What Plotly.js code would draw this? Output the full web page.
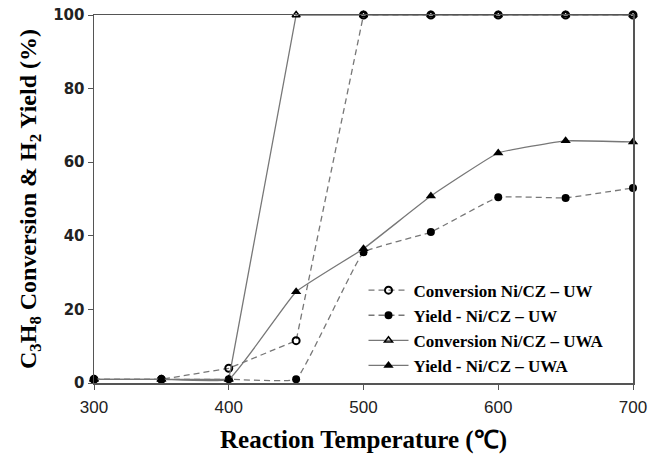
<!DOCTYPE html>
<html>
<head>
<meta charset="utf-8">
<script src="https://cdn.plot.ly/plotly-3.0.1.min.js"></script>
<style>html,body{margin:0;padding:0;background:#fff}#chart{width:661px;height:456px}</style>
</head>
<body>
<div id="chart"></div>
<script>
var temperatures = [300, 350, 400, 450, 500, 550, 600, 650, 700];
var convUW  = [1, 1, 4, 11.5, 100, 100, 100, 100, 100];
var yieldUW = [1, 1, 1, 1, 35.5, 41, 50.5, 50.3, 53];
var convUWA = [1, 1, 1, 100, 100, 100, 100, 100, 100];
var yieldUWA = [1, 1, 1, 24.8, 36.5, 50.8, 62.5, 65.8, 65.5];
var seriesNames = ['Conversion Ni/CZ \u2013 UW', 'Yield - Ni/CZ \u2013 UW', 'Conversion Ni/CZ \u2013 UWA', 'Yield - Ni/CZ \u2013 UWA'];
var xTicks = [300, 400, 500, 600, 700];
var yTicks = [0, 20, 40, 60, 80, 100];

var lineCol = '#777777';
var traces = [
  {x: temperatures, y: convUW, name: seriesNames[0], mode: 'lines+markers', cliponaxis: false,
   line: {color: lineCol, width: 1.3, dash: '6px,4px'},
   marker: {symbol: 'circle-open', size: 7, color: '#000', line: {width: 2, color: '#000'}}},
  {x: temperatures, y: yieldUW, name: seriesNames[1], mode: 'lines+markers', cliponaxis: false,
   line: {color: lineCol, width: 1.3, dash: '6px,4px', shape: 'spline', smoothing: 0.25},
   marker: {symbol: 'circle', size: 8, color: '#000'}},
  {x: temperatures, y: convUWA, name: seriesNames[2], mode: 'lines+markers', cliponaxis: false,
   line: {color: lineCol, width: 1.3},
   marker: {symbol: 'triangle-up-open', size: 7, color: '#000', line: {width: 1.5, color: '#000'}}},
  {x: temperatures, y: yieldUWA, name: seriesNames[3], mode: 'lines+markers', cliponaxis: false,
   line: {color: lineCol, width: 1.3, shape: 'spline', smoothing: 0.3},
   marker: {symbol: 'triangle-up', size: 9, color: '#000'}}
];

var layout = {
  width: 661, height: 456,
  margin: {l: 94, r: 28, t: 15, b: 73},
  paper_bgcolor: '#fff', plot_bgcolor: '#fff',
  showlegend: true,
  legend: {x: 0.5, y: 0.30, xanchor: 'left', yanchor: 'top', bgcolor: 'rgba(0,0,0,0)',
    font: {family: 'Liberation Serif, Times New Roman, serif', size: 17, color: '#000', weight: 'bold'},
    tracegroupgap: 0, itemwidth: 40},
  xaxis: {range: [300, 700], tickvals: xTicks, ticktext: xTicks.map(String),
    showgrid: false, zeroline: false, showline: true, linecolor: '#555', linewidth: 1.5, mirror: true,
    ticks: 'outside', ticklen: 5, tickcolor: '#555', ticklabelstandoff: 3,
    tickfont: {family: 'Liberation Sans, Arial, sans-serif', size: 17, color: '#222'},
    title: {text: 'Reaction Temperature (\u2103)', standoff: 14,
      font: {family: 'Liberation Serif, Times New Roman, serif', size: 25, color: '#000', weight: 'bold'}}},
  yaxis: {range: [0, 100], tickvals: yTicks, ticktext: yTicks.map(String),
    showgrid: false, zeroline: false, showline: true, linecolor: '#555', linewidth: 1.5, mirror: true,
    ticks: 'outside', ticklen: 5, tickcolor: '#555',
    tickfont: {family: 'DejaVu Sans, Verdana, sans-serif', size: 15, color: '#222', weight: 'bold'},
    title: {text: 'C<sub>3</sub>H<sub>8</sub> Conversion &amp; H<sub>2</sub> Yield (%)', standoff: 10,
      font: {family: 'Liberation Serif, Times New Roman, serif', size: 24, color: '#000', weight: 'bold'}}}
};

Plotly.newPlot('chart', traces, layout, {displayModeBar: false, staticPlot: true});
</script>
</body>
</html>
